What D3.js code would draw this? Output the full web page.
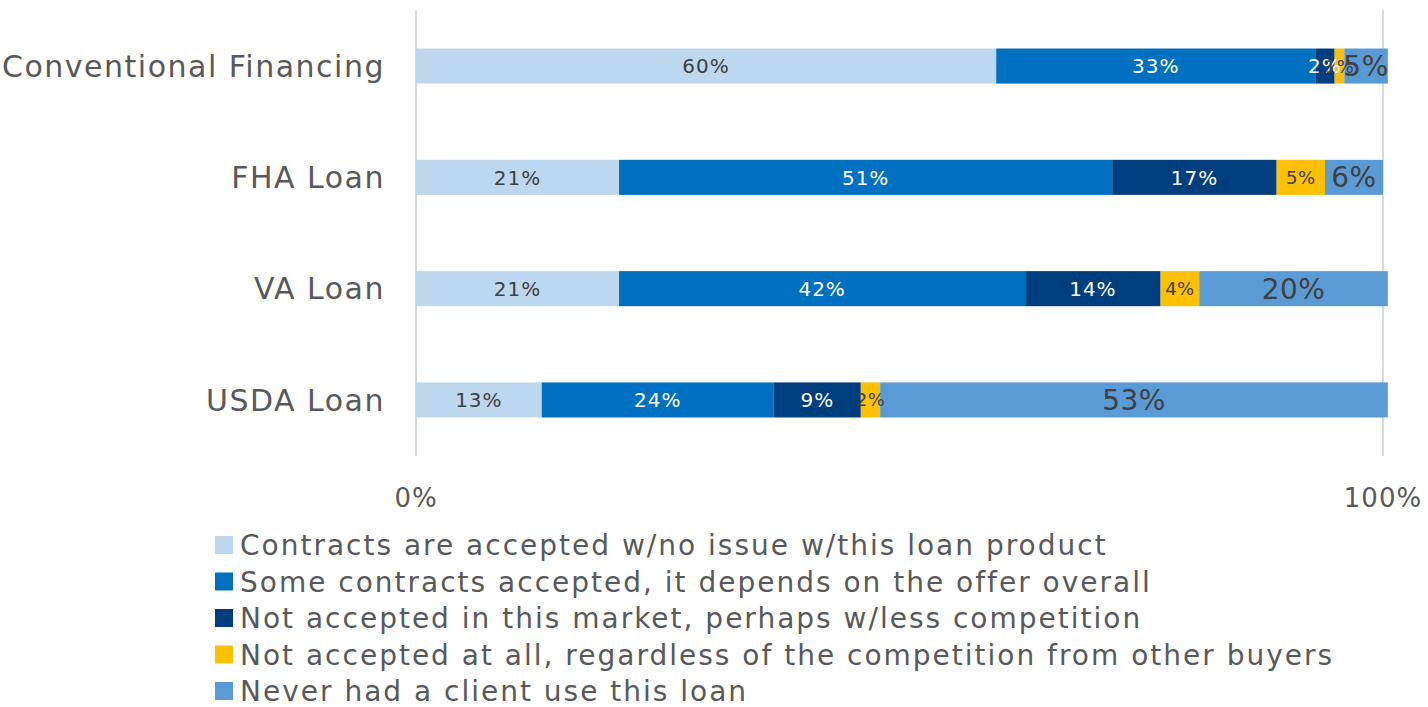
<!DOCTYPE html>
<html>
<head>
<meta charset="utf-8">
<script src="https://cdn.jsdelivr.net/npm/d3@7"></script>
<style>
  html, body { margin: 0; padding: 0; background: #fff; }
  svg { display: block; font-family: "DejaVu Sans", "Noto Sans", sans-serif; }
</style>
</head>
<body>
<svg id="chart" width="1428" height="707"></svg>
<script>
// Loan products (top to bottom)
const categories = ["Conventional Financing", "FHA Loan", "VA Loan", "USDA Loan"];

// Response categories, in stacking order
const seriesNames = [
  "Contracts are accepted w/no issue w/this loan product",
  "Some contracts accepted, it depends on the offer overall",
  "Not accepted in this market, perhaps w/less competition",
  "Not accepted at all, regardless of the competition from other buyers",
  "Never had a client use this loan"
];

// Share of respondents (%) per loan product, one array per response
const acceptedNoIssue   = [60, 21, 21, 13];
const someAccepted      = [33, 51, 42, 24];
const notInThisMarket   = [2, 17, 14, 9];
const notAcceptedAtAll  = [1, 5, 4, 2];
const neverUsed         = [4.5, 6, 19.5, 52.5];

const xTicks = [0, 100];

const colors = ["#BDD7EE", "#0070C0", "#003F7F", "#FFC000", "#5B9BD5"];
const labelColors = ["#404040", "#ffffff", "#ffffff", "#404040", "#404040"];
const labelSizes = [20, 20, 20, 18, 28];
const labelSpacing = [1, 1, 1, 0.5, 0.5];

const seriesValues = [acceptedNoIssue, someAccepted, notInThisMarket, notAcceptedAtAll, neverUsed];

const rows = categories.map((c, i) => {
  const r = { category: c };
  seriesNames.forEach((s, j) => { r[s] = seriesValues[j][i]; });
  return r;
});

const stack = d3.stack().keys(seriesNames);
const layers = stack(rows);

const svg = d3.select("#chart");

const x = d3.scaleLinear().domain([0, 100]).range([416, 1383]);
const y = d3.scaleBand().domain(categories).range([10.4, 455.6])
  .paddingInner(0.685).paddingOuter(0.3425);

// vertical gridlines at 0% and 100%
svg.append("g").selectAll("line").data(xTicks).join("line")
  .attr("x1", d => x(d)).attr("x2", d => x(d))
  .attr("y1", 10).attr("y2", 456)
  .attr("stroke", "#D9D9D9").attr("stroke-width", 2);

// stacked bars
const layerG = svg.append("g").selectAll("g").data(layers).join("g")
  .attr("fill", (d, i) => colors[i]);

layerG.selectAll("rect").data(d => d).join("rect")
  .attr("x", d => x(d[0]))
  .attr("width", d => x(d[1]) - x(d[0]))
  .attr("y", d => y(d.data.category))
  .attr("height", y.bandwidth());

// segment labels
const labelG = svg.append("g").selectAll("g").data(layers).join("g");
labelG.each(function(layer, i) {
  d3.select(this).selectAll("text").data(layer).join("text")
    .attr("x", d => (x(d[0]) + x(d[1])) / 2)
    .attr("y", d => y(d.data.category) + y.bandwidth() / 2)
    .attr("dy", "0.36em")
    .attr("text-anchor", "middle")
    .attr("fill", labelColors[i])
    .attr("font-size", labelSizes[i])
    .attr("letter-spacing", labelSpacing[i])
    .text(d => Math.round(d[1] - d[0]) + "%");
});

// category axis labels
svg.append("g").selectAll("text").data(categories).join("text")
  .attr("x", 385)
  .attr("y", d => y(d) + y.bandwidth() / 2)
  .attr("dy", "0.36em")
  .attr("text-anchor", "end")
  .attr("fill", "#595959")
  .attr("font-size", 30)
  .attr("letter-spacing", 1.5)
  .text(d => d);

// x tick labels
svg.append("g").selectAll("text").data(xTicks).join("text")
  .attr("x", d => x(d))
  .attr("y", 507)
  .attr("text-anchor", "middle")
  .attr("fill", "#595959")
  .attr("font-size", 26)
  .attr("letter-spacing", 1)
  .text(d => d + "%");

// legend
const legend = svg.append("g").selectAll("g").data(seriesNames).join("g")
  .attr("transform", (d, i) => `translate(215, ${545 + i * 36.5})`);
legend.append("rect")
  .attr("x", 0).attr("y", -9).attr("width", 18).attr("height", 18)
  .attr("fill", (d, i) => colors[i]);
legend.append("text")
  .attr("x", 25).attr("dy", "0.36em")
  .attr("fill", "#595959")
  .attr("font-size", 28)
  .attr("letter-spacing", 2)
  .text(d => d);
</script>
</body>
</html>
